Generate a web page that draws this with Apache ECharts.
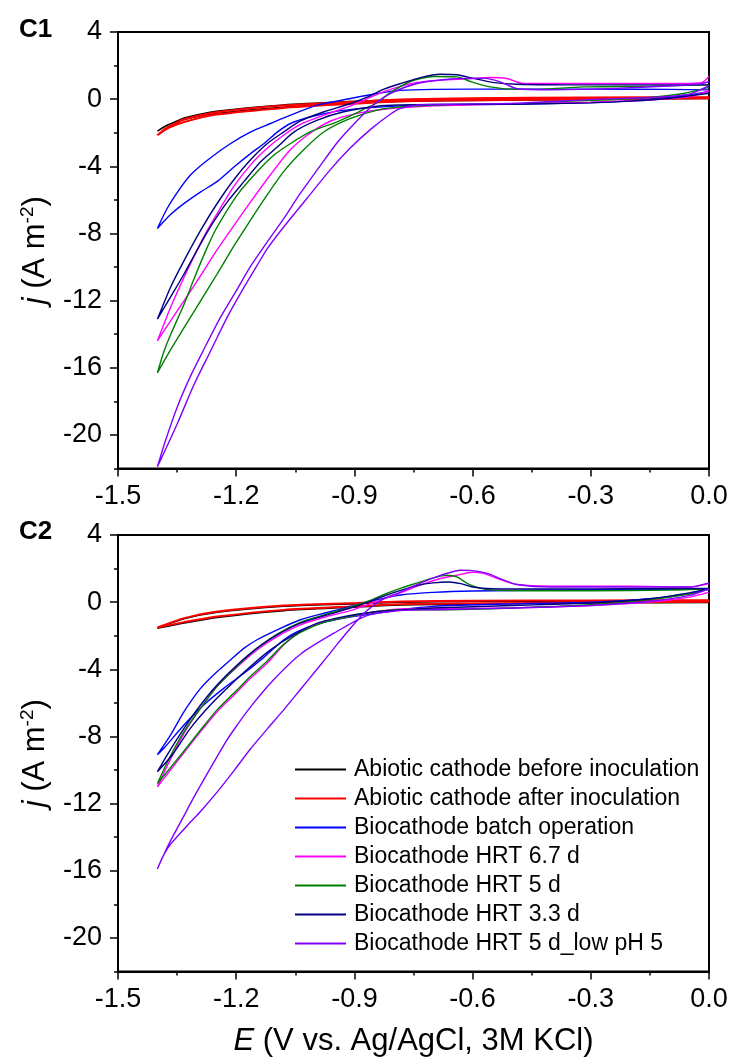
<!DOCTYPE html>
<html>
<head>
<meta charset="utf-8">
<script src="https://cdn.jsdelivr.net/npm/echarts@6/dist/echarts.min.js"></script>
<style>
html,body{margin:0;padding:0;background:#fff;}
#chart{width:735px;height:1061px;}
</style>
</head>
<body>
<div id="chart"></div>
<script>
// ---------- tick values ----------
const xTicks = [-1.5, -1.2, -0.9, -0.6, -0.3, 0.0];
const yMajorTicks = [4, 0, -4, -8, -12, -16, -20];
const yMinorTicks = [2, -2, -6, -10, -14, -18, -22];

// ---------- series names & colours ----------
const seriesNames = [
  'Abiotic cathode before inoculation',
  'Abiotic cathode after inoculation',
  'Biocathode batch operation',
  'Biocathode HRT 6.7 d',
  'Biocathode HRT 5 d',
  'Biocathode HRT 3.3 d',
  'Biocathode HRT 5 d_low pH 5'
];
const seriesColors = ['#000000', '#FF0000', '#0000FF', '#FF00FF', '#008000', '#000080', '#8000FF'];

// ---------- panel C1 : [E (V), j (A m-2)] ----------
const c1Black = [[0,0.03],[-0.3,-0.02],[-0.6,-0.08],[-0.78,-0.14],[-0.91,-0.26],[-1.08,-0.48],[-1.25,-0.85],[-1.33,-1.2],[-1.37,-1.5],[-1.4,-1.9],
  [-1.38,-1.6],[-1.35,-1.3],[-1.33,-1.1],[-1.25,-0.72],[-1.08,-0.34],[-0.91,-0.14],[-0.78,-0.03],[-0.6,0.03],[-0.3,0.07],[0,0.1]];
const c1Red = [[0,0.05],[-0.3,0.0],[-0.6,-0.06],[-0.78,-0.12],[-0.91,-0.28],[-1.08,-0.52],[-1.25,-0.92],[-1.33,-1.35],[-1.37,-1.7],[-1.4,-2.15],
  [-1.38,-1.75],[-1.35,-1.38],[-1.33,-1.18],[-1.25,-0.78],[-1.08,-0.38],[-0.91,-0.16],[-0.78,-0.02],[-0.6,0.05],[-0.3,0.1],[0,0.12]];
const c1Blue = [[0,0.45],[-0.1,0.1],[-0.2,-0.1],[-0.3,-0.2],[-0.5,-0.3],[-0.7,-0.35],[-0.783,-0.4],[-0.867,-0.52],[-0.943,-0.71],[-1.011,-1.05],[-1.062,-1.45],[-1.095,-1.95],[-1.129,-2.64],[-1.163,-3.23],[-1.205,-4.03],[-1.247,-4.88],[-1.29,-5.52],[-1.332,-6.21],[-1.366,-6.86],[-1.4,-7.7],
  [-1.375,-6.5],[-1.345,-5.4],[-1.316,-4.52],[-1.278,-3.73],[-1.218,-2.7],[-1.163,-1.95],[-1.113,-1.45],[-1.062,-0.95],[-0.994,-0.36],[-0.91,0.04],[-0.842,0.34],[-0.783,0.52],[-0.7,0.58],[-0.5,0.6],[-0.3,0.6],[-0.1,0.58],[0,0.55]];
const c1Magenta = [[0,0.5],[-0.05,0.15],[-0.15,-0.05],[-0.3,-0.18],[-0.5,-0.28],[-0.7,-0.4],[-0.825,-0.6],[-0.893,-0.85],[-0.96,-1.3],[-1.011,-2.0],[-1.062,-3.0],[-1.113,-4.5],[-1.163,-6.1],[-1.214,-7.8],[-1.252,-9.1],[-1.29,-10.5],[-1.332,-12.0],[-1.375,-13.5],[-1.4,-14.4],
  [-1.37,-12.6],[-1.34,-11.0],[-1.31,-9.5],[-1.28,-8.1],[-1.248,-6.8],[-1.206,-5.2],[-1.163,-3.9],[-1.12,-2.9],[-1.08,-2.15],[-1.037,-1.5],[-0.977,-0.95],[-0.91,-0.4],[-0.825,0.45],[-0.741,1.0],[-0.656,1.17],[-0.6,1.22],[-0.555,1.29],[-0.513,1.23],[-0.471,0.93],[-0.318,0.93],[-0.1,0.93],[-0.02,0.98],[0,1.35]];
const c1Green = [[0,0.7],[-0.065,0.34],[-0.15,0.1],[-0.234,-0.02],[-0.403,-0.16],[-0.487,-0.3],[-0.588,-0.28],[-0.7,-0.35],[-0.783,-0.46],[-0.842,-0.65],[-0.91,-1.15],[-0.977,-1.94],[-1.028,-3.0],[-1.079,-4.3],[-1.13,-6.0],[-1.18,-7.8],[-1.21,-8.9],[-1.248,-10.4],[-1.29,-12.0],[-1.332,-13.6],[-1.366,-14.9],[-1.4,-16.3],
  [-1.383,-15.0],[-1.366,-14.0],[-1.332,-12.2],[-1.307,-10.7],[-1.273,-8.8],[-1.248,-7.6],[-1.197,-5.7],[-1.147,-4.33],[-1.104,-3.33],[-1.062,-2.64],[-1.011,-1.94],[-0.944,-1.35],[-0.91,-1.0],[-0.876,-0.6],[-0.842,-0.2],[-0.808,0.4],[-0.758,1.05],[-0.699,1.35],[-0.639,1.33],[-0.605,1.05],[-0.555,0.73],[-0.487,0.58],[-0.42,0.6],[-0.318,0.73],[-0.149,0.77],[0,0.85]];
const c1Navy = [[0,0.35],[-0.1,0.05],[-0.2,-0.12],[-0.3,-0.22],[-0.5,-0.3],[-0.7,-0.32],[-0.783,-0.35],[-0.842,-0.42],[-0.927,-0.75],[-0.994,-1.25],[-1.053,-1.95],[-1.095,-2.84],[-1.138,-3.73],[-1.18,-4.9],[-1.222,-6.1],[-1.26,-7.4],[-1.29,-8.6],[-1.332,-10.4],[-1.366,-11.76],[-1.4,-13.1],
  [-1.366,-11.17],[-1.332,-9.6],[-1.29,-7.8],[-1.248,-6.2],[-1.206,-4.8],[-1.163,-3.6],[-1.121,-2.64],[-1.079,-1.95],[-1.037,-1.3],[-0.977,-0.75],[-0.91,-0.26],[-0.86,0.2],[-0.825,0.6],[-0.78,0.95],[-0.73,1.3],[-0.682,1.48],[-0.64,1.45],[-0.6,1.25],[-0.55,1.0],[-0.487,0.89],[-0.3,0.85],[-0.1,0.85],[0,0.85]];
const c1Violet = [[0,0.8],[-0.05,0.3],[-0.149,0.1],[-0.318,-0.04],[-0.487,-0.24],[-0.656,-0.3],[-0.74,-0.35],[-0.783,-0.55],[-0.809,-0.9],[-0.859,-1.8],[-0.91,-2.9],[-0.961,-4.2],[-1.02,-5.9],[-1.079,-7.6],[-1.121,-8.9],[-1.147,-9.9],[-1.18,-11.2],[-1.223,-13.0],[-1.265,-15.0],[-1.307,-17.0],[-1.349,-19.3],[-1.4,-21.9],
  [-1.379,-20.3],[-1.349,-18.3],[-1.316,-16.5],[-1.282,-14.9],[-1.24,-13.0],[-1.197,-11.3],[-1.164,-9.98],[-1.121,-8.5],[-1.079,-7.1],[-1.037,-5.6],[-0.994,-4.2],[-0.944,-2.6],[-0.91,-1.7],[-0.859,-0.5],[-0.808,0.34],[-0.741,0.93],[-0.656,1.2],[-0.572,1.25],[-0.53,1.03],[-0.487,0.62],[-0.403,0.56],[-0.234,0.64],[-0.023,0.9],[0,1.05]];

// ---------- panel C2 : [E (V), j (A m-2)] ----------
const c2Black = [[0,-0.02],[-0.3,-0.06],[-0.6,-0.12],[-0.783,-0.17],[-0.91,-0.31],[-1.079,-0.51],[-1.248,-0.91],[-1.332,-1.24],[-1.4,-1.56],
  [-1.332,-1.0],[-1.248,-0.61],[-1.079,-0.25],[-0.91,-0.11],[-0.783,-0.01],[-0.6,0.03],[-0.3,0.05],[0,0.07]];
const c2Red = [[0,0.02],[-0.3,-0.02],[-0.6,-0.08],[-0.783,-0.12],[-0.91,-0.26],[-1.079,-0.46],[-1.248,-0.86],[-1.332,-1.19],[-1.4,-1.51],
  [-1.332,-0.95],[-1.248,-0.56],[-1.079,-0.2],[-0.91,-0.06],[-0.783,0.04],[-0.6,0.08],[-0.3,0.1],[0,0.12]];
const c2Blue = [[0,0.78],[-0.05,0.5],[-0.15,0.2],[-0.3,0.0],[-0.5,-0.1],[-0.7,-0.25],[-0.783,-0.45],[-0.859,-0.71],[-0.927,-0.95],[-0.994,-1.31],[-1.045,-1.75],[-1.079,-2.24],[-1.13,-3.29],[-1.18,-4.23],[-1.231,-5.12],[-1.282,-6.11],[-1.332,-7.3],[-1.383,-8.69],[-1.4,-9.09],
  [-1.366,-7.89],[-1.332,-6.51],[-1.29,-5.12],[-1.248,-4.13],[-1.214,-3.43],[-1.18,-2.74],[-1.147,-2.24],[-1.096,-1.65],[-1.037,-1.05],[-0.977,-0.66],[-0.91,-0.26],[-0.825,0.24],[-0.783,0.43],[-0.7,0.58],[-0.6,0.66],[-0.4,0.72],[-0.2,0.75],[0,0.8]];
const c2Magenta = [[0,0.6],[-0.05,0.3],[-0.15,0.0],[-0.3,-0.2],[-0.5,-0.35],[-0.7,-0.38],[-0.783,-0.4],[-0.842,-0.56],[-0.91,-0.86],[-0.977,-1.15],[-1.037,-1.75],[-1.079,-2.54],[-1.121,-3.63],[-1.163,-4.52],[-1.205,-5.52],[-1.248,-6.51],[-1.29,-7.7],[-1.337,-9.09],[-1.4,-11.0],
  [-1.37,-9.5],[-1.332,-7.8],[-1.29,-6.3],[-1.248,-5.0],[-1.197,-3.85],[-1.147,-2.85],[-1.096,-2.05],[-1.037,-1.35],[-0.969,-0.85],[-0.91,-0.5],[-0.86,-0.1],[-0.8,0.4],[-0.74,0.95],[-0.69,1.35],[-0.64,1.6],[-0.6,1.78],[-0.57,1.7],[-0.53,1.35],[-0.487,1.05],[-0.4,0.95],[-0.2,0.95],[-0.05,0.9],[0,1.1]];
const c2Green = [[0,0.8],[-0.05,0.5],[-0.15,0.15],[-0.3,-0.15],[-0.5,-0.35],[-0.6,-0.42],[-0.7,-0.45],[-0.783,-0.45],[-0.842,-0.55],[-0.91,-0.85],[-0.977,-1.2],[-1.037,-1.8],[-1.079,-2.5],[-1.121,-3.5],[-1.163,-4.4],[-1.205,-5.4],[-1.248,-6.4],[-1.29,-7.6],[-1.337,-9.0],[-1.4,-10.8],
  [-1.37,-9.3],[-1.332,-7.7],[-1.29,-6.3],[-1.248,-5.0],[-1.197,-3.8],[-1.147,-2.75],[-1.096,-1.9],[-1.037,-1.2],[-0.969,-0.7],[-0.91,-0.3],[-0.86,0.1],[-0.82,0.5],[-0.78,0.85],[-0.74,1.15],[-0.7,1.45],[-0.665,1.6],[-0.64,1.5],[-0.606,1.03],[-0.555,0.73],[-0.45,0.68],[-0.3,0.68],[-0.1,0.72],[0,0.8]];
const c2Navy = [[0,0.8],[-0.05,0.55],[-0.15,0.2],[-0.3,-0.05],[-0.5,-0.2],[-0.7,-0.35],[-0.783,-0.46],[-0.842,-0.56],[-0.927,-0.86],[-0.994,-1.25],[-1.054,-1.95],[-1.113,-2.84],[-1.164,-3.83],[-1.214,-4.92],[-1.265,-6.11],[-1.316,-7.5],[-1.362,-9.09],[-1.4,-10.1],
  [-1.375,-9.09],[-1.332,-7.5],[-1.29,-6.11],[-1.248,-4.92],[-1.197,-3.73],[-1.147,-2.74],[-1.096,-1.95],[-1.037,-1.25],[-0.969,-0.76],[-0.91,-0.35],[-0.86,0.05],[-0.82,0.4],[-0.783,0.7],[-0.74,1.0],[-0.7,1.15],[-0.66,1.2],[-0.63,1.1],[-0.6,0.9],[-0.55,0.8],[-0.4,0.78],[-0.2,0.8],[0,0.82]];
const c2Violet = [[0,0.8],[-0.05,0.4],[-0.15,0.05],[-0.3,-0.2],[-0.5,-0.35],[-0.7,-0.45],[-0.783,-0.5],[-0.868,-0.8],[-0.952,-1.85],[-1.037,-3.1],[-1.105,-4.62],[-1.164,-6.25],[-1.206,-7.6],[-1.231,-8.5],[-1.273,-10.2],[-1.307,-11.6],[-1.332,-12.7],[-1.375,-14.6],[-1.4,-15.9],
  [-1.385,-15.1],[-1.366,-14.4],[-1.316,-13.1],[-1.29,-12.45],[-1.248,-11.3],[-1.206,-10.05],[-1.164,-8.75],[-1.121,-7.55],[-1.079,-6.4],[-1.037,-5.2],[-0.995,-4.0],[-0.952,-2.75],[-0.91,-1.55],[-0.868,-0.5],[-0.826,0.2],[-0.783,0.6],[-0.741,1.05],[-0.699,1.45],[-0.66,1.75],[-0.631,1.9],[-0.6,1.88],[-0.56,1.7],[-0.53,1.4],[-0.487,1.05],[-0.4,0.9],[-0.2,0.9],[-0.05,0.9],[0,1.15]];

const c1Data = [c1Black, c1Red, c1Blue, c1Magenta, c1Green, c1Navy, c1Violet];
const c2Data = [c2Black, c2Red, c2Blue, c2Magenta, c2Green, c2Navy, c2Violet];

// ---------- chart ----------
const FONT = '"Liberation Sans", Arial, sans-serif';
const chart = echarts.init(document.getElementById('chart'), null, {renderer: 'canvas'});

const gridTops = [32, 535];
const GRID_H = 436.5;

function xAxisFor(g, withName) {
  const ax = {
    gridIndex: g, type: 'value', min: -1.5, max: 0, interval: 0.3,
    axisLine: {show: true, onZero: false, lineStyle: {color: '#000', width: 2}},
    axisTick: {show: true, inside: false, length: 8, lineStyle: {color: '#000', width: 1.5}},
    minorTick: {show: true, splitNumber: 2, length: 4, lineStyle: {color: '#000', width: 1.5}},
    axisLabel: {show: true, margin: 15, color: '#000', fontSize: 27, fontFamily: FONT,
      formatter: v => Number(v).toFixed(1)},
    splitLine: {show: false}, minorSplitLine: {show: false}
  };
  if (withName) {
    ax.name = '{i|E} (V vs. Ag/AgCl, 3M KCl)';
    ax.nameLocation = 'middle';
    ax.nameGap = 54;
    ax.nameTextStyle = {color: '#000', fontSize: 31, fontFamily: FONT,
      rich: {i: {fontStyle: 'italic', fontSize: 31, fontFamily: FONT, color: '#000'}}};
  }
  return ax;
}
function xAxisHidden(g) {
  return {gridIndex: g, type: 'value', min: -1.5, max: 0, show: false};
}
function yAxisMain(g) {
  return {
    gridIndex: g, type: 'value', min: -22, max: 4, position: 'left',
    axisLine: {show: true, onZero: false, lineStyle: {color: '#000', width: 2}},
    axisTick: {show: true, inside: false, length: 8, customValues: yMajorTicks, lineStyle: {color: '#000', width: 1.5}},
    axisLabel: {show: true, margin: 16, customValues: yMajorTicks, color: '#000', fontSize: 27, fontFamily: FONT},
    splitLine: {show: false},
    name: '{i|j} (A m{s|-2})',
    nameLocation: 'middle', nameRotate: 90, nameGap: 64,
    nameTextStyle: {color: '#000', fontSize: 31, fontFamily: FONT, lineHeight: 34,
      rich: {
        i: {fontStyle: 'italic', fontSize: 31, fontFamily: FONT, color: '#000', lineHeight: 34},
        s: {fontSize: 19, fontFamily: FONT, color: '#000', lineHeight: 19, verticalAlign: 'top'}
      }}
  };
}
function yAxisMinor(g) {
  return {
    gridIndex: g, type: 'value', min: -22, max: 4, position: 'left',
    axisLine: {show: false, onZero: false},
    axisTick: {show: true, inside: false, length: 4, customValues: yMinorTicks, lineStyle: {color: '#000', width: 1.5}},
    axisLabel: {show: false, customValues: yMinorTicks},
    splitLine: {show: false}
  };
}

const series = [];
[c1Data, c2Data].forEach((panel, g) => {
  panel.forEach((d, k) => {
    series.push({
      name: seriesNames[k], type: 'line', xAxisIndex: g, yAxisIndex: g,
      data: d, showSymbol: false, symbol: 'none', smooth: 0.25,
      lineStyle: {color: seriesColors[k], width: k === 1 ? 2 : 1.4},
      itemStyle: {color: seriesColors[k]},
      emphasis: {disabled: true}, animation: false, clip: true, z: 2 + k
    });
  });
});

const mainGrids = gridTops.map(t => ({left: 118, right: 26, top: t, height: GRID_H, show: true,
  borderColor: '#000', borderWidth: 2, backgroundColor: 'transparent', containLabel: false}));
const overlayGrids = gridTops.map(t => ({left: 118, right: 26, top: t, height: GRID_H, show: false, containLabel: false}));

chart.setOption({
  animation: false,
  backgroundColor: '#fff',
  grid: mainGrids.concat(overlayGrids),
  xAxis: [xAxisFor(0, false), xAxisFor(1, true), xAxisHidden(2), xAxisHidden(3)],
  yAxis: [yAxisMain(0), yAxisMain(1), yAxisMinor(2), yAxisMinor(3)],
  legend: {
    show: true, orient: 'vertical', left: 290, top: 753,
    icon: 'rect', itemWidth: 51, itemHeight: 2, itemGap: 6,
    data: seriesNames,
    textStyle: {color: '#000', fontSize: 23, fontFamily: FONT, lineHeight: 23, padding: [0, 0, 0, 3]},
    selectedMode: false
  },
  graphic: [
    {type: 'text', left: 19, top: 17, style: {text: 'C1', fontSize: 26, fontWeight: 'bold', fontFamily: FONT, fill: '#000'}},
    {type: 'text', left: 19, top: 519, style: {text: 'C2', fontSize: 26, fontWeight: 'bold', fontFamily: FONT, fill: '#000'}}
  ],
  series: series
});
</script>
</body>
</html>
